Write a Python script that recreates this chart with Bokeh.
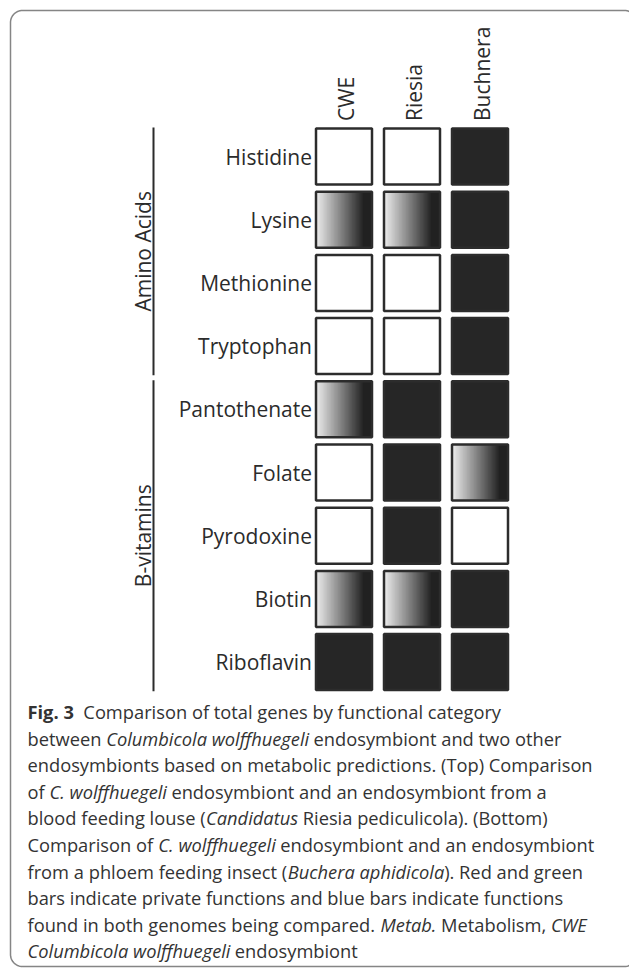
import glob
import os
import struct

import numpy as np
from bokeh.core.properties import value
from bokeh.embed import file_html
from bokeh.models import ColumnDataSource, Range1d
from bokeh.plotting import figure
from bokeh.resources import INLINE

# ---------------- data ----------------
columns = ["CWE", "Riesia", "Buchnera"]
rows = ["Histidine", "Lysine", "Methionine", "Tryptophan",
        "Pantothenate", "Folate", "Pyrodoxine", "Biotin", "Riboflavin"]
group_names = ["Amino Acids", "B-vitamins"]
group_sizes = [4, 5]
cwe_status = ["absent", "partial", "absent", "absent",
              "partial", "absent", "absent", "partial", "present"]
riesia_status = ["absent", "partial", "absent", "absent",
                 "present", "present", "present", "partial", "present"]
buchnera_status = ["present", "present", "present", "present",
                   "present", "partial", "absent", "present", "present"]
status_by_column = [cwe_status, riesia_status, buchnera_status]

caption_lines = [
    [("Fig. 3", "bold"), ("  Comparison of total genes by functional category", "normal")],
    [("between ", "normal"), ("Columbicola wolffhuegeli", "italic"), (" endosymbiont and two other", "normal")],
    [("endosymbionts based on metabolic predictions. (Top) Comparison", "normal")],
    [("of ", "normal"), ("C. wolffhuegeli", "italic"), (" endosymbiont and an endosymbiont from a", "normal")],
    [("blood feeding louse (", "normal"), ("Candidatus", "italic"), (" Riesia pediculicola). (Bottom)", "normal")],
    [("Comparison of ", "normal"), ("C. wolffhuegeli", "italic"), (" endosymbiont and an endosymbiont", "normal")],
    [("from a phloem feeding insect (", "normal"), ("Buchera aphidicola", "italic"), ("). Red and green", "normal")],
    [("bars indicate private functions and blue bars indicate functions", "normal")],
    [("found in both genomes being compared. ", "normal"), ("Metab.", "italic"), (" Metabolism, ", "normal"), ("CWE", "italic")],
    [("Columbicola wolffhuegeli", "italic"), (" endosymbiont", "normal")],
]

# ---------------- text measuring (font metrics) ----------------
def _load_ttf(path):
    data = open(path, "rb").read()
    off0 = struct.unpack(">I", data[12:16])[0] if data[:4] == b"ttcf" else 0
    num = struct.unpack(">H", data[off0 + 4:off0 + 6])[0]
    tabs = {}
    for k in range(num):
        rec = data[off0 + 12 + 16 * k: off0 + 28 + 16 * k]
        tabs[rec[:4].decode("latin1")] = struct.unpack(">I", rec[8:12])[0]
    head = tabs["head"]
    upem = struct.unpack(">H", data[head + 18:head + 20])[0]
    hhea = tabs["hhea"]
    nhm = struct.unpack(">H", data[hhea + 34:hhea + 36])[0]
    hmtx = tabs["hmtx"]
    adv = [struct.unpack(">H", data[hmtx + 4 * g:hmtx + 4 * g + 2])[0] for g in range(nhm)]
    cmap = tabs["cmap"]
    nsub = struct.unpack(">H", data[cmap + 2:cmap + 4])[0]
    sub = None
    for k in range(nsub):
        pid, eid, so = struct.unpack(">HHI", data[cmap + 4 + 8 * k: cmap + 12 + 8 * k])
        fmt = struct.unpack(">H", data[cmap + so: cmap + so + 2])[0]
        if fmt == 4 and (pid, eid) in ((3, 1), (0, 3), (0, 4), (0, 1), (0, 0)):
            sub = cmap + so
            if (pid, eid) == (3, 1):
                break
    segx2 = struct.unpack(">H", data[sub + 6:sub + 8])[0]
    n = segx2 // 2
    ends = struct.unpack(">%dH" % n, data[sub + 14:sub + 14 + segx2])
    starts = struct.unpack(">%dH" % n, data[sub + 16 + segx2:sub + 16 + 2 * segx2])
    deltas = struct.unpack(">%dh" % n, data[sub + 16 + 2 * segx2:sub + 16 + 3 * segx2])
    ro_pos = sub + 16 + 3 * segx2
    ros = struct.unpack(">%dH" % n, data[ro_pos:ro_pos + segx2])
    cache = {}

    def advance(ch):
        c = ord(ch)
        if c in cache:
            return cache[c]
        g = 0
        for k in range(n):
            if starts[k] <= c <= ends[k]:
                if ros[k] == 0:
                    g = (c + deltas[k]) & 0xFFFF
                else:
                    addr = ro_pos + 2 * k + ros[k] + 2 * (c - starts[k])
                    g0 = struct.unpack(">H", data[addr:addr + 2])[0]
                    g = (g0 + deltas[k]) & 0xFFFF if g0 else 0
                break
        a = adv[min(g, nhm - 1)] / upem
        cache[c] = a
        return a
    return advance


_APPROX = {" ": .26, "i": .25, "l": .25, "j": .25, "f": .34, "t": .35, "r": .41, ".": .26,
           ",": .25, "(": .3, ")": .3, "m": .93, "w": .78, "W": .9, "M": .9, "C": .63}


def _approx_adv(ch):
    return _APPROX.get(ch, 0.56)


def _find_fonts():
    dirs = ["/usr/share/fonts", "/usr/local/share/fonts",
            os.path.expanduser("~/.fonts"), os.path.expanduser("~/.local/share/fonts")]
    files = []
    for d in dirs:
        files += glob.glob(os.path.join(d, "**", "*"), recursive=True)
    files = [f for f in files if f.lower().endswith((".ttf", ".otf"))]
    names = {os.path.basename(f).lower(): f for f in files}

    def pick(cands, fuzzy):
        for c in cands:
            if c.lower() in names:
                return names[c.lower()]
        for nm, f in names.items():
            if fuzzy(nm):
                return f
        return None
    bad = ("light", "semi", "extra", "medium", "condensed", "cond")
    reg = pick(["OpenSans-Regular.ttf", "OpenSans-Regular.otf", "OpenSans[wdth,wght].ttf",
                "OpenSans-VariableFont_wdth,wght.ttf", "OpenSans.ttf"],
               lambda nm: "opensans" in nm.replace(" ", "") and "italic" not in nm
               and "bold" not in nm and not any(b in nm for b in bad))
    ita = pick(["OpenSans-Italic.ttf", "OpenSans-Italic.otf", "OpenSans-Italic[wdth,wght].ttf",
                "OpenSans-Italic-VariableFont_wdth,wght.ttf"],
               lambda nm: "opensans" in nm.replace(" ", "") and "italic" in nm
               and "bold" not in nm and not any(b in nm for b in bad))
    bold = pick(["OpenSans-Bold.ttf", "OpenSans-Bold.otf"],
                lambda nm: "opensans" in nm.replace(" ", "") and "bold" in nm
                and "italic" not in nm and not any(b in nm for b in bad))
    return reg, ita, bold


_advs = {}
try:
    _r, _i, _b = _find_fonts()
    _advs["normal"] = _load_ttf(_r) if _r else _approx_adv
    _advs["italic"] = _load_ttf(_i) if _i else _advs["normal"]
    if _b:
        _advs["bold"] = _load_ttf(_b)
    else:
        _advs["bold"] = lambda ch, f=_advs["normal"]: f(ch) * 1.06
except Exception:
    _advs = {"normal": _approx_adv, "italic": _approx_adv,
             "bold": lambda ch: _approx_adv(ch) * 1.06}


def measure(text, style, size):
    f = _advs[style]
    return sum(f(ch) for ch in text) * size


# ---------------- layout (pixel geometry of the page) ----------------
W, H = 629, 968
X0, DX = 343.5, 68.0      # column 0 centre / column pitch (px)
Y0, DY = 156.0, 63.2      # row 0 centre / row pitch (px)
CELL = 56.0               # cell size (px, line centred)
LABEL_SIZE = 21
FONT = "Open Sans"
DARK = "#262626"
BORDER = "#2c2c2c"
TXT = "#2b2b2b"


def ux(X):
    return (X - X0) / DX


def vy(Y):
    return (Y - Y0) / DY


p = figure(width=W, height=H, output_backend="svg", toolbar_location=None,
           x_range=Range1d(ux(0), ux(W)), y_range=Range1d(vy(H), vy(0)),
           x_axis_type=None, y_axis_type=None, min_border=0,
           outline_line_color=None, background_fill_color="white",
           border_fill_color="white")

# ---------------- outer rounded frame ----------------
R = 12.0
FL, FT, FR, FB = 10.0, 10.0, 636.0, 966.0


def _arc(cx, cy, a0, a1):
    t = np.linspace(a0, a1, 16)
    return list(cx + R * np.cos(t)), list(cy + R * np.sin(t))


fx, fy = [], []
for cx, cy, a0, a1 in [(FL + R, FB - R, 0.5 * np.pi, np.pi),
                       (FL + R, FT + R, np.pi, 1.5 * np.pi),
                       (FR - R, FT + R, 1.5 * np.pi, 2.0 * np.pi),
                       (FR - R, FB - R, 0.0, 0.5 * np.pi)]:
    ax, ay = _arc(cx, cy, a0, a1)
    fx += ax
    fy += ay
fx.append(fx[0])
fy.append(fy[0])
p.line([ux(v) for v in fx], [vy(v) for v in fy], line_color="#858585", line_width=1.5)

# ---------------- cells ----------------
cell_x, cell_y, cell_fill, cell_alpha = [], [], [], []
grad_l, grad_r, grad_t, grad_b, grad_c = [], [], [], [], []
NSTRIP = 56


def grad_gray(t):
    v = 0.94 - (0.94 - 0.14) * min(t / 0.85, 1.0)
    g = int(round(v * 255))
    return "#%02x%02x%02x" % (g, g, g)


for j, col in enumerate(columns):
    for i, r in enumerate(rows):
        st = status_by_column[j][i]
        cell_x.append(j)
        cell_y.append(i)
        if st == "present":
            cell_fill.append(DARK)
            cell_alpha.append(1.0)
        elif st == "absent":
            cell_fill.append("#ffffff")
            cell_alpha.append(1.0)
        else:
            cell_fill.append("#ffffff")
            cell_alpha.append(0.0)
            hw = CELL / 2.0 / DX
            hh = CELL / 2.0 / DY
            edges = np.linspace(j - hw, j + hw, NSTRIP + 1)
            for k in range(NSTRIP):
                grad_l.append(edges[k])
                grad_r.append(edges[k + 1])
                grad_t.append(i - hh)
                grad_b.append(i + hh)
                grad_c.append(grad_gray((k + 0.5) / NSTRIP))

p.quad(left="l", right="r", top="t", bottom="b", fill_color="c", line_color="c",
       line_width=0.6,
       source=ColumnDataSource(dict(l=grad_l, r=grad_r, t=grad_t, b=grad_b, c=grad_c)))

p.rect(x="x", y="y", width=CELL / DX, height=CELL / DY, fill_color="fill",
       fill_alpha="alpha", line_color=BORDER, line_width=2.5,
       source=ColumnDataSource(dict(x=cell_x, y=cell_y, fill=cell_fill, alpha=cell_alpha)))

# ---------------- row labels ----------------
p.text(x=[ux(311.5)] * len(rows), y=list(range(len(rows))),
       text=rows, text_align="right", text_baseline="middle",
       text_font=value(FONT), text_font_size="%dpx" % LABEL_SIZE, text_color=TXT)

# ---------------- column headers (rotated) ----------------
p.text(x=[j + 1.5 / DX for j in range(len(columns))], y=[vy(120.5)] * len(columns),
       text=columns, angle=np.pi / 2, text_align="left", text_baseline="middle",
       text_font=value(FONT), text_font_size="%dpx" % LABEL_SIZE, text_color=TXT)

# ---------------- group brackets ----------------
gx0, gy0, gx1, gy1, gmid = [], [], [], [], []
start = 0
for nm, sz in zip(group_names, group_sizes):
    first, last = start, start + sz - 1
    gx0.append(ux(153))
    gx1.append(ux(153))
    gy0.append(first - 0.46)
    gy1.append(last + 0.46)
    gmid.append((first + last) / 2.0)
    start += sz
p.segment(x0=gx0, y0=gy0, x1=gx1, y1=gy1, line_color="#2b2b2b", line_width=2)
p.text(x=[ux(142.5)] * len(group_names), y=gmid, text=group_names, angle=np.pi / 2,
       text_align="center", text_baseline="middle",
       text_font=value(FONT), text_font_size="%dpx" % LABEL_SIZE, text_color=TXT)

# ---------------- caption ----------------
CAP_LEFT = 27.0
CAP_BASE = 718.0
CAP_PITCH = 26.55
ref_line = "".join(s for s, _ in caption_lines[2])
cap_size = round(566.0 / measure(ref_line, "normal", 1.0), 2)

segs = {"normal": dict(x=[], y=[], text=[]), "italic": dict(x=[], y=[], text=[]),
        "bold": dict(x=[], y=[], text=[])}
for li, line in enumerate(caption_lines):
    xpos = CAP_LEFT
    mid = CAP_BASE + li * CAP_PITCH - 0.37 * cap_size
    for s, style in line:
        lead = len(s) - len(s.lstrip(" "))
        body = s.strip(" ")
        if body:
            segs[style]["x"].append(ux(xpos + measure(" " * lead, style, cap_size)))
            segs[style]["y"].append(vy(mid))
            segs[style]["text"].append(body)
        xpos += measure(s, style, cap_size)

for style, d in segs.items():
    if not d["text"]:
        continue
    p.text(x="x", y="y", text="text", source=ColumnDataSource(d),
           text_align="left", text_baseline="middle",
           text_font=value(FONT), text_font_size="%.2fpx" % cap_size,
           text_font_style=style, text_color="#333333")

open("out.html", "w").write(file_html(p, INLINE))
